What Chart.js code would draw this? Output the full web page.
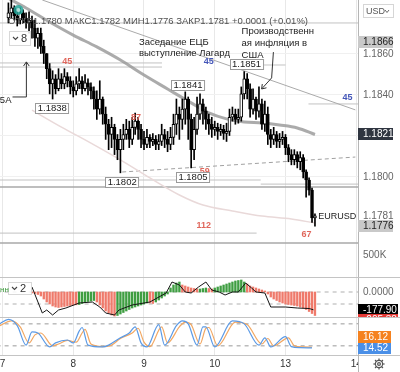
<!DOCTYPE html>
<html lang="ru">
<head>
<meta charset="utf-8">
<title>EURUSD</title>
<script src="https://cdn.jsdelivr.net/npm/chart.js@4.4.1/dist/chart.umd.min.js"></script>
<style>
  html, body { margin: 0; padding: 0; background: #fff; }
  #wrap { position: relative; width: 400px; height: 372px; overflow: hidden; }
  canvas { position: absolute; left: 0; }
  .sep { position: absolute; left: 0; width: 400px; height: 1px; background: #c4c4c4; }
</style>
</head>
<body>
<div id="wrap">
  <canvas id="main" width="400" height="278" style="top:0"></canvas>
  <canvas id="macd" width="400" height="40" style="top:278px"></canvas>
  <canvas id="stoch" width="400" height="54" style="top:318px"></canvas>
  <div class="sep" style="top:277px"></div>
  <div class="sep" style="top:317px"></div>
</div>
<script>
// ---- time axis (hours from the start of the 7th) ----
const dayTicks = [0, 24, 48, 72, 96, 120];
const dayLabels = ['7', '8', '9', '10', '13', '14'];

// ---- EURUSD hourly candles, first one at hour 2 ----
const firstHour = 2;
const opens = [
  1.18775,1.18800,1.18825,1.18785,1.18765,1.18800,1.18775,1.18751,1.18765,1.18726,
  1.18677,1.18701,1.18637,1.18602,1.18528,1.18454,1.18479,1.18430,1.18479,1.18454,
  1.18489,1.18469,1.18439,1.18420,1.18454,1.18469,1.18430,1.18459,1.18439,1.18420,
  1.18380,1.18331,1.18380,1.18306,1.18257,1.18207,1.18242,1.18183,1.18133,1.18183,
  1.18207,1.18232,1.18183,1.18242,1.18272,1.18232,1.18183,1.18158,1.18193,1.18173,
  1.18183,1.18158,1.18173,1.18207,1.18183,1.18158,1.18193,1.18257,1.18306,1.18281,
  1.18331,1.18380,1.18281,1.18133,1.18232,1.18306,1.18356,1.18321,1.18281,1.18257,
  1.18232,1.18242,1.18222,1.18232,1.18212,1.18222,1.18291,1.18306,1.18281,1.18291,
  1.18405,1.18479,1.18430,1.18331,1.18380,1.18321,1.18356,1.18257,1.18306,1.18207,
  1.18183,1.18207,1.18173,1.18183,1.18193,1.18143,1.18109,1.18084,1.18109,1.18074,
  1.18094,1.18025,1.17985,1.17936,1.17800];
const highs = [
  1.18849,1.18864,1.18835,1.18815,1.18825,1.18815,1.18800,1.18805,1.18785,1.18765,
  1.18726,1.18726,1.18667,1.18602,1.18553,1.18518,1.18499,1.18528,1.18504,1.18528,
  1.18509,1.18489,1.18469,1.18489,1.18528,1.18489,1.18499,1.18479,1.18459,1.18439,
  1.18420,1.18469,1.18390,1.18341,1.18281,1.18291,1.18257,1.18207,1.18232,1.18257,
  1.18281,1.18272,1.18291,1.18311,1.18291,1.18257,1.18222,1.18232,1.18207,1.18212,
  1.18202,1.18207,1.18257,1.18232,1.18222,1.18242,1.18306,1.18380,1.18341,1.18380,
  1.18415,1.18390,1.18306,1.18291,1.18390,1.18405,1.18380,1.18341,1.18306,1.18291,
  1.18272,1.18262,1.18257,1.18252,1.18262,1.18331,1.18341,1.18331,1.18331,1.18439,
  1.18514,1.18504,1.18454,1.18430,1.18390,1.18439,1.18380,1.18370,1.18341,1.18232,
  1.18242,1.18222,1.18212,1.18222,1.18207,1.18158,1.18133,1.18133,1.18123,1.18123,
  1.18109,1.18035,1.17995,1.17946,1.17820];
const lows = [
  1.18751,1.18775,1.18765,1.18736,1.18746,1.18751,1.18726,1.18701,1.18677,1.18637,
  1.18627,1.18602,1.18553,1.18479,1.18405,1.18380,1.18405,1.18420,1.18430,1.18430,
  1.18439,1.18405,1.18390,1.18400,1.18430,1.18405,1.18420,1.18400,1.18380,1.18331,
  1.18281,1.18306,1.18257,1.18183,1.18133,1.18143,1.18109,1.18084,1.18020,1.18133,
  1.18183,1.18143,1.18158,1.18207,1.18183,1.18143,1.18133,1.18143,1.18143,1.18153,
  1.18133,1.18133,1.18153,1.18143,1.18123,1.18133,1.18158,1.18207,1.18183,1.18232,
  1.18257,1.18183,1.18044,1.18084,1.18207,1.18281,1.18257,1.18232,1.18207,1.18193,
  1.18202,1.18183,1.18202,1.18183,1.18173,1.18202,1.18272,1.18257,1.18262,1.18272,
  1.18380,1.18380,1.18291,1.18306,1.18281,1.18291,1.18232,1.18222,1.18158,1.18143,
  1.18158,1.18143,1.18143,1.18158,1.18109,1.18074,1.18059,1.18059,1.18044,1.18035,
  1.17995,1.17901,1.17911,1.17778,1.17760];
const closes = [
  1.18800,1.18825,1.18785,1.18765,1.18800,1.18775,1.18751,1.18765,1.18726,1.18677,
  1.18701,1.18637,1.18602,1.18528,1.18454,1.18479,1.18430,1.18479,1.18454,1.18489,
  1.18469,1.18439,1.18420,1.18454,1.18469,1.18430,1.18459,1.18439,1.18420,1.18380,
  1.18331,1.18380,1.18306,1.18257,1.18207,1.18242,1.18183,1.18133,1.18183,1.18207,
  1.18232,1.18183,1.18242,1.18272,1.18232,1.18183,1.18158,1.18193,1.18173,1.18183,
  1.18158,1.18173,1.18207,1.18183,1.18158,1.18193,1.18257,1.18306,1.18281,1.18331,
  1.18380,1.18281,1.18133,1.18232,1.18306,1.18356,1.18321,1.18281,1.18257,1.18232,
  1.18242,1.18222,1.18232,1.18212,1.18222,1.18291,1.18306,1.18281,1.18291,1.18405,
  1.18479,1.18430,1.18331,1.18380,1.18321,1.18356,1.18257,1.18306,1.18207,1.18183,
  1.18207,1.18173,1.18183,1.18193,1.18143,1.18109,1.18084,1.18109,1.18074,1.18094,
  1.18025,1.17985,1.17936,1.17800,1.17810];

// moving averages, [hour, price]
const maFast = [[0,1.18887],[8,1.18824],[16,1.18756],[24,1.18692],[32,1.18634],[40,1.18570],
  [48,1.18497],[56,1.18429],[64,1.18361],[70,1.18312],[76,1.18283],[82,1.18268],[88,1.18263],
  [94,1.18253],[100,1.18239],[106,1.18207]];
const maSlow = [[10,1.18326],[20,1.18243],[30,1.18165],[40,1.18083],[50,1.17995],[60,1.17912],
  [68,1.17863],[78,1.17834],[88,1.17809],[98,1.17795],[106,1.17775]];

// drawings: [fromHour, toHour, price]
const thinLevels = [[-2,121,1.18751],[-2,54.1,1.18556],[-2,54.1,1.18536],[77.8,96,1.18546],
  [103.8,121,1.18356],[-2,87.6,1.17985],[87.6,121,1.17965],[-2,86.2,1.17726]];
const boldLevels = [[-2,121,1.17951],[-2,121,1.17678]];
const trendLine = [[13.5,1.18863],[119.7,1.18327]];
const supportLine = [[40.6,1.18024],[119.7,1.18097]];

// text drawings
const notes = [[46.3,1.18658,'Заседание ЕЦБ'],[46.3,1.18604,'выступление Лагард'],
  [81.1,1.18712,'Производственн'],[81.1,1.18653,'ая инфляция в'],[81.1,1.18595,'США'],
  [-0.9,1.18375,'5A']];
const priceBoxes = [[16.9,1.18336,'1.1838'],[62.9,1.18448,'1.1841'],[82.8,1.18551,'1.1851'],
  [40.6,1.17975,'1.1802'],[64.6,1.17999,'1.1805']];
const redCounts = [[22.0,1.18561,'45'],[45.3,1.18292,'87'],[68.6,1.18024,'59'],
  [68.3,1.17761,'112'],[103.1,1.17717,'67']];
const blueCounts = [[70.0,1.18561,'45'],[117.0,1.18385,'45']];
const arrowPaths = [[[3.4,1.18390],[8.1,1.18390],[8.1,1.18561]],
  [[91.9,1.18609],[91.3,1.18483],[87.9,1.18429]]];
const eventMark = [5.4, 1.18814];
const symbolLabel = [113.6, 1.17805, 'EURUSD'];

// price scale
const priceTicks = [1.1860, 1.1840, 1.1820, 1.1800];
const priceTags = [[1.1866,'1.1866','gray'],[1.1821,'1.1821','dark'],[1.1781,'1.1781','plain'],
  [1.1776,'1.1776','gray'],[1.1762,'500K','plain']];

// ---- MACD pane ----
const histFirstHour = 10;
const histValues = [
  -10,-15,-25,-40,-70,-100,-120,-140,-150,-155,
  -150,-145,-140,-135,-130,-128,-125,-115,-105,-95,
  -90,-85,-100,-130,-160,-190,-210,-230,-240,-235,
  -220,-205,-190,-175,-160,-150,-140,-130,-120,-110,
  -110,-115,-100,-80,-60,-40,-20,40,70,90,
  100,70,60,50,40,35,30,30,35,40,
  35,30,40,50,60,70,80,90,100,110,
  115,120,100,80,60,50,40,30,20,10,
  -20,-50,-70,-85,-100,-110,-120,-125,-130,-135,
  -140,-150,-160,-175,-195,-215,-235];
const histTone = ('rrrrrrrrrrrrrrrr gggggg rrrrrrr ggggggggggg rr ggggggggg rrrrrr ggg rr ' +
  'ggggggggggg rrrrrrrrrrrrrrrrrrrrrrrr').replace(/ /g, '').split('');
const macdLine = [[10,50],[13.5,-210],[15,-180],[17,-230],[19,-180],[21.5,-160],[26,-110],
  [30.5,-100],[33,-150],[35,-210],[38,-230],[39.5,-180],[44,-130],[50,-100],[55.5,-10],
  [57.5,100],[60,70],[62,0],[64,-10],[66.5,50],[69,100],[71,20],[73.5,0],[75.5,-30],[78,0],
  [80,0],[82.5,90],[84.5,40],[86,0],[89,-10],[91,-150],[96,-150],[100,-160],[104,-165],[105.5,-178]];
const macdLevels = [0, -120];
const macdTags = [[-177.9,'-177.90','#000000'],[-240,'-205.38','#e53935']];

// ---- Stochastic pane ----
const stochK = [[-1,80],[2,92],[5,75],[8,22],[10,58],[12,55],[16,17],[18,28],[22,36],[24,28],
  [26,60],[27,70],[29,22],[34,17],[36,22],[40,42],[43,55],[45,72],[47,28],[49,17],[53,78],
  [55,22],[59,75],[61,88],[63,80],[66,22],[68,72],[69,72],[72,17],[78,88],[82,80],[87,22],
  [89,42],[91,17],[96,45],[98,18],[101,15],[105,14.52]];
const stochD = [[-1,75],[3,88],[6,72],[9,28],[11,50],[13,55],[17,20],[19,25],[22,35],[25,30],
  [27,55],[28,65],[30,25],[34,18],[37,22],[40,40],[44,55],[46,68],[48,30],[50,18],[54,72],
  [56,28],[60,72],[62,85],[64,78],[67,25],[69,68],[70,70],[73,20],[79,85],[83,78],[88,25],
  [90,40],[92,20],[97,42],[99,20],[102,17],[105,16.12]];
const stochLevels = [80, 20];
const stochTags = [[14.52,'14.52','#4a8fe7'],[16.12,'16.12','#f5821f']];

// ---------------------------------------------------------------
Chart.defaults.font.family = 'Arial, "Liberation Sans", sans-serif';
Chart.defaults.animation = false;
Chart.defaults.events = [];
Chart.defaults.plugins.legend.display = false;
Chart.defaults.plugins.tooltip.enabled = false;

const X_MIN = -0.85, X_MAX = 120.6, AXIS_W = 42;

function xAxis(h) {
  return {
    type: 'linear', min: X_MIN, max: X_MAX, offset: false,
    grid: { color: '#e8e8e8', drawTicks: false, offset: false },
    border: { display: false },
    ticks: { display: false },
    afterBuildTicks: s => { s.ticks = dayTicks.map(v => ({ value: v })); },
    afterFit: s => { s.height = h; s.paddingLeft = 0; s.paddingRight = 0; }
  };
}
function yAxis(min, max, ticks, fmt, grid) {
  return {
    position: 'right', min, max,
    grid: { display: grid, color: '#f0f0f0', drawTicks: false },
    border: { color: '#b5b5b5' },
    ticks: { color: '#666', font: { size: 10 }, padding: 5, callback: fmt },
    afterBuildTicks: s => { s.ticks = ticks.map(v => ({ value: v })); },
    // keep the plot area flush with the pane edges
    afterFit: s => { s.width = AXIS_W; s.paddingTop = 0; s.paddingBottom = 0; }
  };
}
const pts = arr => arr.map(q => ({ x: q[0], y: q[1] }));
const flat = (v, a, b) => [{ x: a, y: v }, { x: b, y: v }];
function lineSet(data, color, width, extra) {
  return Object.assign({ type: 'line', data, borderColor: color, borderWidth: width,
    pointRadius: 0, fill: false }, extra || {});
}

function axisTags(ctx, scale, tags, firstFixed, w) {
  let prev = null;
  tags.forEach(t => {
    let y = scale.getPixelForValue(t[0]);
    if (firstFixed && prev !== null && Math.abs(y - prev) < 11) y = prev + (t[0] > tags[0][0] ? -11 : 10);
    if (prev === null) prev = y;
    const bg = t[2];
    ctx.font = '10px Arial';
    if (bg && bg !== 'plain') {
      ctx.fillStyle = bg === 'gray' ? '#c9c9c9' : bg === 'dark' ? '#2f3540' : bg;
      ctx.fillRect(358, Math.round(y) - 6, w, 12);
    }
    ctx.fillStyle = (bg === 'gray' || bg === 'plain') ? (bg === 'gray' ? '#222' : '#666') : '#fff';
    ctx.textAlign = 'left'; ctx.textBaseline = 'middle';
    ctx.fillText(t[1], 363, Math.round(y) + 0.5);
  });
}
function chevBox(ctx, x, y, w, h, label) {
  ctx.fillStyle = 'rgba(255,255,255,0.85)';
  ctx.fillRect(x, y, w, h);
  ctx.strokeStyle = '#d8d8d8'; ctx.lineWidth = 1;
  ctx.strokeRect(x + 0.5, y + 0.5, w - 1, h - 1);
  ctx.strokeStyle = '#444'; ctx.lineWidth = 1.1;
  ctx.beginPath();
  ctx.moveTo(x + 4, y + h / 2 - 1.5); ctx.lineTo(x + 6.5, y + h / 2 + 1); ctx.lineTo(x + 9, y + h / 2 - 1.5);
  ctx.stroke();
  ctx.fillStyle = '#333'; ctx.font = '11px Arial'; ctx.textAlign = 'left'; ctx.textBaseline = 'middle';
  ctx.fillText(label, x + 12, y + h / 2 + 0.5);
}

// ---- main price pane ----
const candleHours = closes.map((c, i) => firstHour + i);
const last = closes.length - 1;
const titleText = 'ОТКР' + opens[last].toFixed(4) + ' МАКС' + highs[last].toFixed(4) +
  ' МИН' + lows[last].toFixed(4) + ' ЗАКР' + closes[last].toFixed(4) +
  ' +' + (closes[last] - closes[last - 1]).toFixed(4) +
  ' (+' + ((closes[last] - closes[last - 1]) / closes[last - 1] * 100).toFixed(2) + '%)';

const mainOverlay = {
  id: 'mainOverlay',
  afterDatasetsDraw(chart) {
    const { ctx, scales: { x, y } } = chart;
    const at = (h, p) => [x.getPixelForValue(h), y.getPixelForValue(p)];
    ctx.save();
    // event marker
    const [mx, my] = at(eventMark[0], eventMark[1]);
    ctx.fillStyle = 'rgba(38,166,154,0.85)';
    ctx.beginPath(); ctx.arc(mx, my, 5, 0, Math.PI * 2); ctx.fill();
    ctx.fillStyle = 'rgba(190,230,225,0.9)';
    ctx.beginPath(); ctx.arc(mx, my, 2, 0, Math.PI * 2); ctx.fill();
    // arrows
    ctx.strokeStyle = '#333'; ctx.lineWidth = 1;
    arrowPaths.forEach(path => {
      const p = path.map(q => at(q[0], q[1]));
      ctx.beginPath();
      p.forEach((q, i) => i ? ctx.lineTo(q[0], q[1]) : ctx.moveTo(q[0], q[1]));
      ctx.stroke();
      const [ex, ey] = p[p.length - 1], [sx, sy] = p[p.length - 2];
      const a = Math.atan2(ey - sy, ex - sx);
      ctx.beginPath();
      ctx.moveTo(ex - 5 * Math.cos(a - 0.6), ey - 5 * Math.sin(a - 0.6));
      ctx.lineTo(ex, ey);
      ctx.lineTo(ex - 5 * Math.cos(a + 0.6), ey - 5 * Math.sin(a + 0.6));
      ctx.stroke();
    });
    // wave counts
    ctx.font = 'bold 9px Arial'; ctx.textAlign = 'center'; ctx.textBaseline = 'middle';
    ctx.fillStyle = '#e0675c';
    redCounts.forEach(([h, p, t]) => { const [cx, cy] = at(h, p); ctx.fillText(t, cx, cy); });
    ctx.fillStyle = '#4456b8';
    blueCounts.forEach(([h, p, t]) => { const [cx, cy] = at(h, p); ctx.fillText(t, cx, cy); });
    // price boxes
    ctx.font = '9.5px Arial';
    priceBoxes.forEach(([h, p, t]) => {
      const [cx, cy] = at(h, p);
      const w = ctx.measureText(t).width + 5;
      ctx.fillStyle = '#fff';
      ctx.fillRect(Math.round(cx - w / 2), Math.round(cy) - 5, w, 11);
      ctx.strokeStyle = '#9a9a9a';
      ctx.strokeRect(Math.round(cx - w / 2) + 0.5, Math.round(cy) - 4.5, w - 1, 10);
      ctx.fillStyle = '#222';
      ctx.fillText(t, cx, Math.round(cy) + 0.5);
    });
    // notes
    ctx.font = '9.5px Arial'; ctx.textAlign = 'left'; ctx.fillStyle = '#1c1c1c';
    notes.forEach(([h, p, t]) => { const [cx, cy] = at(h, p); ctx.fillText(t, cx, cy); });
    ctx.font = '9px Arial'; ctx.textAlign = 'center'; ctx.fillStyle = '#222';
    const [sx, sy] = at(symbolLabel[0], symbolLabel[1]);
    ctx.fillText(symbolLabel[2], sx, sy);
    // legend line
    ctx.font = '9.5px Arial'; ctx.textAlign = 'left'; ctx.fillStyle = '#505050';
    ctx.fillText(titleText, 8, 21);
    chevBox(ctx, 9, 31, 22, 15, '8');
    ctx.restore();
  },
  afterDraw(chart) {
    const { ctx } = chart;
    ctx.save();
    axisTags(ctx, chart.scales.y, priceTags, false, 35);
    ctx.strokeStyle = '#d6d6d6'; ctx.lineWidth = 1;
    ctx.strokeRect(363.5, 4.5, 30, 13);
    ctx.fillStyle = '#555'; ctx.font = '9px Arial'; ctx.textBaseline = 'middle'; ctx.textAlign = 'left';
    ctx.fillText('USD', 366, 11.5);
    ctx.strokeStyle = '#666';
    ctx.beginPath(); ctx.moveTo(385, 10); ctx.lineTo(387, 12.5); ctx.lineTo(389, 10); ctx.stroke();
    ctx.restore();
  }
};

new Chart(document.getElementById('main'), {
  type: 'bar',
  data: {
    datasets: [
      ...thinLevels.map(l => lineSet(flat(l[2], l[0], l[1]), '#c2c2c2', 1, { order: 10 })),
      ...boldLevels.map(l => lineSet(flat(l[2], l[0], l[1]), '#a9a9a9', 1.5, { order: 10 })),
      lineSet(pts(trendLine), '#aaaaaa', 1, { order: 9 }),
      lineSet(pts(supportLine), '#a0a0a0', 1, { order: 9, borderDash: [4, 3] }),
      lineSet(pts(maSlow), '#e9d9d9', 1.5, { order: 8, cubicInterpolationMode: 'monotone' }),
      lineSet(pts(maFast), 'rgba(150,150,150,0.8)', 3, { order: 7, cubicInterpolationMode: 'monotone' }),
      {
        type: 'bar', order: 2, grouped: false, barThickness: 1,
        data: candleHours.map((h, i) => ({ x: h, y: [lows[i], highs[i]] })),
        backgroundColor: '#000'
      },
      {
        type: 'bar', order: 1, grouped: false, barThickness: 3, borderSkipped: false,
        data: candleHours.map((h, i) => ({ x: h, y: [opens[i], closes[i]] })),
        backgroundColor: closes.map((c, i) => c >= opens[i] ? '#ffffff' : '#000000'),
        borderColor: '#000', borderWidth: 1
      }
    ]
  },
  options: {
    responsive: false,
    layout: { padding: 0 },
    scales: {
      x: xAxis(0),
      y: yAxis(1.17507, 1.18863, priceTicks,
        v => (Math.abs(v - 1.182) < 1e-6 ? '' : v.toFixed(4)), true)
    }
  },
  plugins: [mainOverlay]
});

// ---- MACD pane ----
const macdOverlay = {
  id: 'macdOverlay',
  afterDraw(chart) {
    const { ctx } = chart;
    ctx.save();
    axisTags(ctx, chart.scales.y, macdTags, true, 40);
    chevBox(ctx, 8, 4, 24, 13, '2');
    ctx.fillStyle = '#3a9a3a'; ctx.font = '8px Arial'; ctx.textAlign = 'left';
    ctx.fillText('нн', 0, 12);
    ctx.restore();
  }
};
new Chart(document.getElementById('macd'), {
  type: 'bar',
  data: {
    datasets: [
      ...macdLevels.map(v => lineSet(flat(v, -2, 121), '#b0b0b0', 1, { order: 5, borderDash: [4, 4] })),
      lineSet(pts(macdLine), '#151515', 1, { order: 1 }),
      {
        type: 'bar', order: 2, grouped: false, barThickness: 1.7,
        data: histValues.map((v, i) => ({ x: histFirstHour + i, y: v })),
        backgroundColor: histTone.map(t => t === 'g' ? '#3f9e42' : '#ef7a6b')
      }
    ]
  },
  options: {
    responsive: false,
    layout: { padding: 0 },
    scales: {
      x: xAxis(0),
      y: yAxis(-260, 140, [0], v => v.toFixed(4), false)
    }
  },
  plugins: [macdOverlay]
});

// ---- Stochastic pane + time labels ----
const stochOverlay = {
  id: 'stochOverlay',
  afterDraw(chart) {
    const { ctx, chartArea: a, scales: { x } } = chart;
    ctx.save();
    axisTags(ctx, chart.scales.y, stochTags, true, 33);
    ctx.strokeStyle = '#c4c4c4'; ctx.lineWidth = 1;
    ctx.beginPath(); ctx.moveTo(0, a.bottom + 0.5); ctx.lineTo(400, a.bottom + 0.5); ctx.stroke();
    ctx.strokeStyle = '#b5b5b5';
    ctx.beginPath(); ctx.moveTo(358.5, a.bottom); ctx.lineTo(358.5, 54); ctx.stroke();
    ctx.save();
    ctx.beginPath(); ctx.rect(0, a.bottom + 1, 358, 54 - a.bottom); ctx.clip();
    ctx.fillStyle = '#333'; ctx.font = '10px Arial'; ctx.textAlign = 'center'; ctx.textBaseline = 'middle';
    dayTicks.forEach((v, i) => ctx.fillText(dayLabels[i], x.getPixelForValue(v), a.bottom + 9));
    ctx.restore();
    // settings gear
    const gx = 379, gy = a.bottom + 9;
    ctx.strokeStyle = '#555'; ctx.lineWidth = 1.2;
    ctx.beginPath(); ctx.arc(gx, gy, 3.6, 0, Math.PI * 2); ctx.stroke();
    ctx.beginPath(); ctx.arc(gx, gy, 1.4, 0, Math.PI * 2); ctx.stroke();
    for (let k = 0; k < 8; k++) {
      const ang = k * Math.PI / 4;
      ctx.beginPath();
      ctx.moveTo(gx + 3.6 * Math.cos(ang), gy + 3.6 * Math.sin(ang));
      ctx.lineTo(gx + 5.6 * Math.cos(ang), gy + 5.6 * Math.sin(ang));
      ctx.stroke();
    }
    ctx.restore();
  }
};
new Chart(document.getElementById('stoch'), {
  type: 'line',
  data: {
    datasets: [
      ...stochLevels.map(v => lineSet(flat(v, -2, 121), '#9a9a9a', 1, { order: 5, borderDash: [4, 4] })),
      lineSet(pts(stochD), '#f2a761', 1.2, { order: 2, cubicInterpolationMode: 'monotone' }),
      lineSet(pts(stochK), '#5b9ae6', 1.2, { order: 1, cubicInterpolationMode: 'monotone' })
    ]
  },
  options: {
    responsive: false,
    layout: { padding: 0 },
    scales: {
      x: xAxis(17),
      y: yAxis(-5, 96, [], v => '', false)
    }
  },
  plugins: [stochOverlay]
});
</script>
</body>
</html>
